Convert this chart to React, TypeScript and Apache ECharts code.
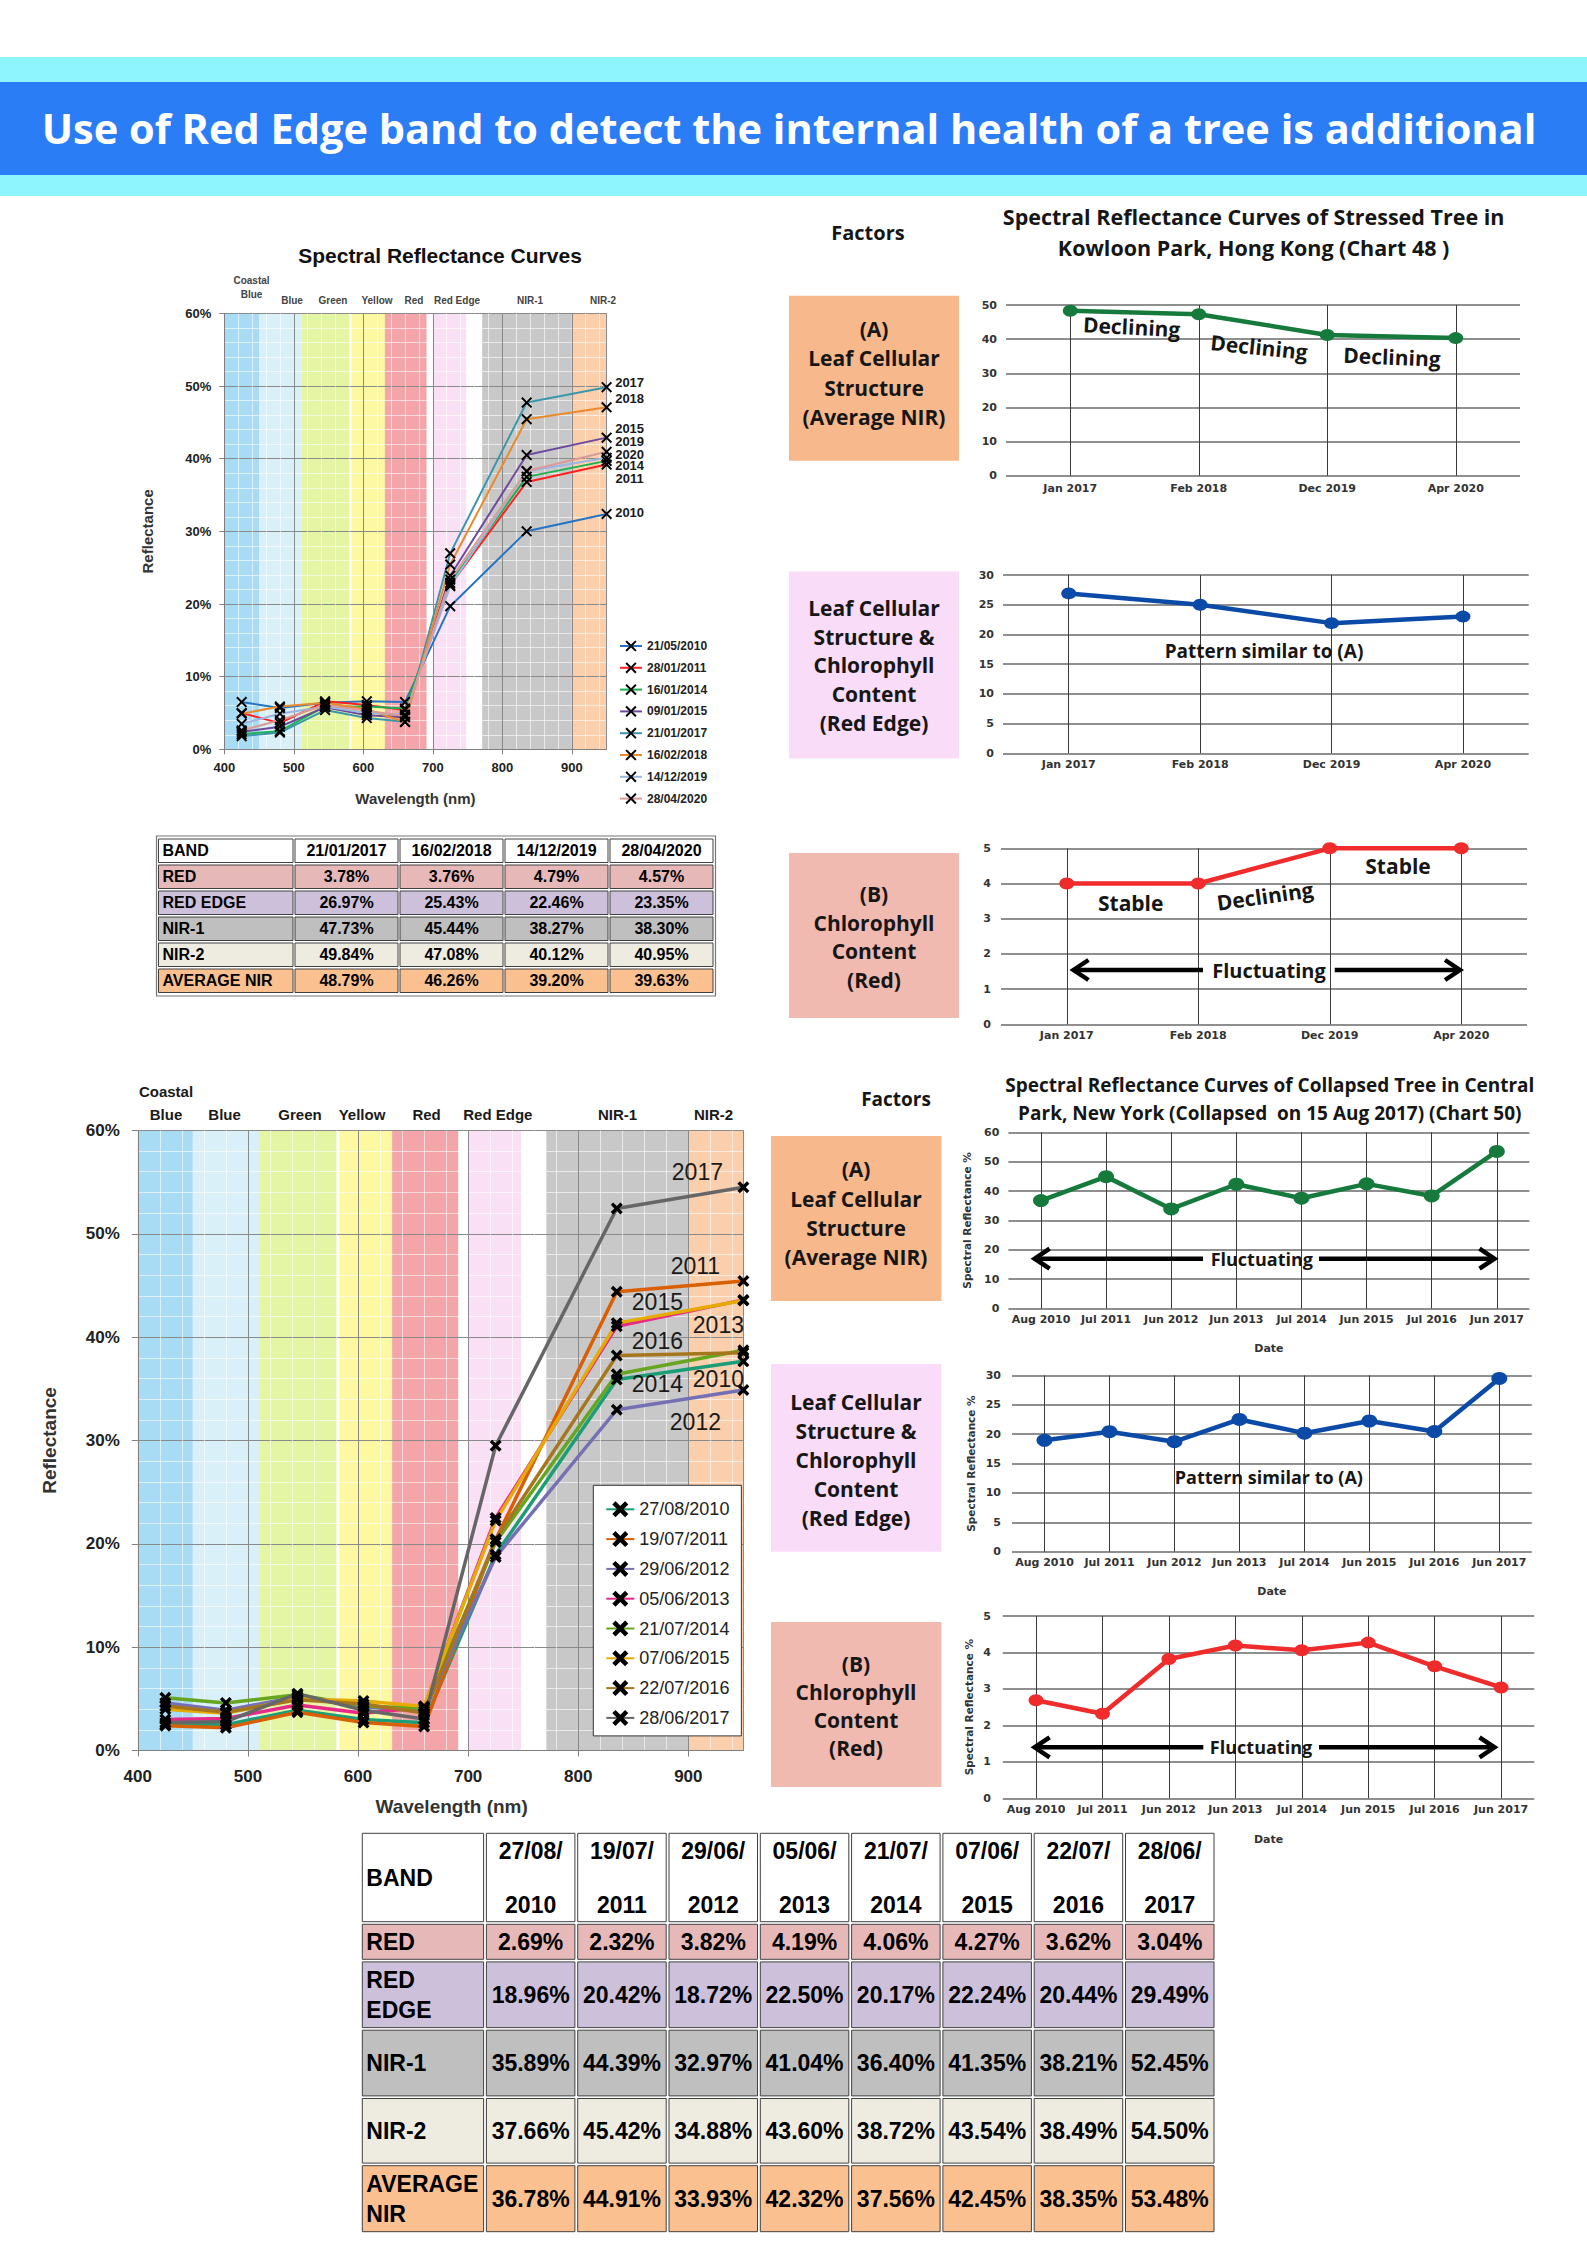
import React, { useEffect, useRef } from "react";
import * as echarts from "echarts";

// ================= DATA =================
const headerTitle = "Use of Red Edge band to detect the internal health of a tree is additional";

// Spectral band sampling wavelengths (nm): Coastal, Blue, Green, Yellow, Red, Red Edge, NIR-1, NIR-2
const wavelengths = [425, 480, 545, 605, 660, 725, 835, 950];
const bandNames = ["Coastal\nBlue", "Blue", "Green", "Yellow", "Red", "Red Edge", "NIR-1", "NIR-2"];
const bandStart = [400, 450, 511, 583, 631, 700, 771, 900];
const bandEnd = [450, 511, 581, 631, 691, 748, 900, 950];

// Hong Kong stressed tree (top-left chart)
const hkLegendDates = ["21/05/2010", "28/01/2011", "16/01/2014", "09/01/2015", "21/01/2017", "16/02/2018", "14/12/2019", "28/04/2020"];
const hkYears = ["2010", "2011", "2014", "2015", "2017", "2018", "2019", "2020"];
const hk2010 = [6.5, 5.7, 6.4, 6.6, 6.5, 19.7, 30.0, 32.4];
const hk2011 = [5.0, 3.6, 6.6, 6.1, 5.4, 22.6, 36.8, 39.2];
const hk2014 = [2.1, 2.5, 5.9, 5.9, 5.6, 22.9, 37.5, 39.7];
const hk2015 = [2.4, 3.1, 5.8, 4.7, 4.4, 23.9, 40.5, 42.9];
const hk2017 = [1.8, 2.3, 5.4, 4.3, 3.78, 26.97, 47.73, 49.84];
const hk2018 = [4.9, 5.9, 6.4, 5.5, 3.76, 25.43, 45.44, 47.08];
const hk2019 = [3.5, 4.9, 5.9, 5.0, 4.79, 22.46, 38.27, 40.12];
const hk2020 = [2.6, 4.0, 6.1, 5.3, 4.57, 23.35, 38.3, 40.95];
const hkCurves = [hk2010, hk2011, hk2014, hk2015, hk2017, hk2018, hk2019, hk2020];

// New York collapsed tree (bottom-left chart)
const nyLegendDates = ["27/08/2010", "19/07/2011", "29/06/2012", "05/06/2013", "21/07/2014", "07/06/2015", "22/07/2016", "28/06/2017"];
const nyYears = ["2010", "2011", "2012", "2013", "2014", "2015", "2016", "2017"];
const ny2010 = [2.5, 2.5, 3.9, 3.0, 2.69, 18.96, 35.89, 37.66];
const ny2011 = [2.4, 2.2, 3.7, 2.7, 2.32, 20.42, 44.39, 45.42];
const ny2012 = [4.6, 3.9, 5.2, 4.2, 3.82, 18.72, 32.97, 34.88];
const ny2013 = [3.0, 3.1, 4.4, 3.6, 4.19, 22.5, 41.04, 43.6];
const ny2014 = [5.1, 4.6, 5.4, 4.3, 4.06, 20.17, 36.4, 38.72];
const ny2015 = [4.0, 3.6, 5.0, 4.8, 4.27, 22.24, 41.35, 43.54];
const ny2016 = [4.3, 3.7, 4.9, 4.5, 3.62, 20.44, 38.21, 38.49];
const ny2017 = [2.7, 2.8, 5.5, 3.9, 3.04, 29.49, 52.45, 54.5];
const nyCurves = [ny2010, ny2011, ny2012, ny2013, ny2014, ny2015, ny2016, ny2017];

// Kowloon Park trend charts
const hkDates = ["Jan 2017", "Feb 2018", "Dec 2019", "Apr 2020"];
const hkAvgNir = [48.3, 47.3, 41.2, 40.3];
const hkRedEdge = [26.9, 25.0, 21.9, 23.0];
const hkRed = [4, 4, 5, 5];

// Central Park trend charts
const nyDates = ["Aug 2010", "Jul 2011", "Jun 2012", "Jun 2013", "Jul 2014", "Jun 2015", "Jul 2016", "Jun 2017"];
const nyAvgNir = [36.78, 44.91, 33.93, 42.32, 37.56, 42.45, 38.35, 53.48];
const nyRedEdge = [18.96, 20.42, 18.72, 22.5, 20.17, 22.24, 20.44, 29.49];
const nyRed = [2.69, 2.32, 3.82, 4.19, 4.06, 4.27, 3.62, 3.04];

// Tables
const tableBandsTop = ["RED", "RED EDGE", "NIR-1", "NIR-2", "AVERAGE NIR"];
const tableBandsBottom = ["RED", "RED\nEDGE", "NIR-1", "NIR-2", "AVERAGE\nNIR"];
const hkTableDates = ["21/01/2017", "16/02/2018", "14/12/2019", "28/04/2020"];
const hkTableRed = [3.78, 3.76, 4.79, 4.57];
const hkTableRedEdge = [26.97, 25.43, 22.46, 23.35];
const hkTableNir1 = [47.73, 45.44, 38.27, 38.3];
const hkTableNir2 = [49.84, 47.08, 40.12, 40.95];
const hkTableAvg = [48.79, 46.26, 39.2, 39.63];
const nyTableDates = ["27/08/\n2010", "19/07/\n2011", "29/06/\n2012", "05/06/\n2013", "21/07/\n2014", "07/06/\n2015", "22/07/\n2016", "28/06/\n2017"];
const nyTableRed = [2.69, 2.32, 3.82, 4.19, 4.06, 4.27, 3.62, 3.04];
const nyTableRedEdge = [18.96, 20.42, 18.72, 22.5, 20.17, 22.24, 20.44, 29.49];
const nyTableNir1 = [35.89, 44.39, 32.97, 41.04, 36.4, 41.35, 38.21, 52.45];
const nyTableNir2 = [37.66, 45.42, 34.88, 43.6, 38.72, 43.54, 38.49, 54.5];
const nyTableAvg = [36.78, 44.91, 33.93, 42.32, 37.56, 42.45, 38.35, 53.48];

// ================= STYLE / LAYOUT =================
const W = 1587;
const H = 2245;
const F_XL = '"Liberation Sans", Arial, sans-serif';
const F_CANVA = '"Open Sans", "Noto Sans", sans-serif';
const F_AXIS = '"DejaVu Sans", "Noto Sans", sans-serif';

const bandColors = ["#a7dcf4", "#d9f0f9", "#e4f5a3", "#fdf8a2", "#f4a5a9", "#fae0f4", "#c8c8c8", "#fbceac"];
const hkColors = ["#2574c4", "#ff2020", "#1db04e", "#6e4a9e", "#3a97ab", "#e98a2c", "#9cb6e2", "#d99a98"];
const nyColors = ["#1b9e77", "#d95f02", "#7570b3", "#e7298a", "#66a61e", "#e6ab02", "#a6761d", "#666666"];
const rowFills = ["#e6b9b8", "#ccc0da", "#bfbfbf", "#eeece1", "#fac090"];

const xThin = "path://M1.5,0 L6,4.5 L10.5,0 L12,1.5 L7.5,6 L12,10.5 L10.5,12 L6,7.5 L1.5,12 L0,10.5 L4.5,6 L0,1.5 Z";
const xThick = "path://M2.4,0 L6,3.6 L9.6,0 L12,2.4 L8.4,6 L12,9.6 L9.6,12 L6,8.4 L2.4,12 L0,9.6 L3.6,6 L0,2.4 Z";

const hkLabelOffsets = [[23, -1], [23, 13.5], [23, 5], [23, -9.5], [23, -5], [23, -9], [23, -16], [23, 2.5]];
const nyLabelOffsets = [[-25, 17.7], [-48, -15.3], [-48, 31.6], [-25, 25], [-86, 33.5], [-86, 1.5], [-86, -11.7], [-46, -15.7]];

function fmtPct(v: number) {
  return v.toFixed(2) + "%";
}

function buildOption() {
  const G: any[] = [];
  const T = (text: string, x: number, y: number, o: any = {}) =>
    G.push({
      type: "text",
      x,
      y,
      rotation: o.rot || 0,
      z: o.z ?? 20,
      silent: true,
      style: {
        text,
        fontSize: o.size || 14,
        fontWeight: o.weight || "bold",
        fontFamily: o.family || F_XL,
        fill: o.fill || "#111",
        align: o.align || "center",
        verticalAlign: "middle",
        lineHeight: o.lh,
      },
    });
  const R = (x: number, y: number, w: number, h: number, fill: string, o: any = {}) =>
    G.push({
      type: "rect",
      shape: { x, y, width: w, height: h },
      z: o.z ?? 5,
      silent: true,
      style: { fill, stroke: o.stroke || null, lineWidth: o.lw || 0 },
    });
  const arrow = (y: number, xL: number, xLm: number, xRm: number, xR: number) => {
    const st = { stroke: "#000", lineWidth: 4.5, fill: null };
    G.push({ type: "line", z: 20, silent: true, shape: { x1: xLm, y1: y, x2: xL + 2, y2: y }, style: st });
    G.push({ type: "line", z: 20, silent: true, shape: { x1: xRm, y1: y, x2: xR - 2, y2: y }, style: st });
    G.push({ type: "polyline", z: 20, silent: true, shape: { points: [[xL + 15, y - 10], [xL, y], [xL + 15, y + 10]] }, style: { ...st, lineJoin: "miter" } });
    G.push({ type: "polyline", z: 20, silent: true, shape: { points: [[xR - 15, y - 10], [xR, y], [xR - 15, y + 10]] }, style: { ...st, lineJoin: "miter" } });
  };
  const table = (x0: number, y0: number, colW: number[], colGap: number, rowH: number[], rowGap: number, header: string[], bands: string[], rows: number[][], font: number, lh: number, hlh: number) => {
    let y = y0;
    for (let r = 0; r < rowH.length; r++) {
      let x = x0;
      for (let c = 0; c < colW.length; c++) {
        const fill = r === 0 ? "#ffffff" : rowFills[r - 1];
        R(x, y, colW[c], rowH[r], fill, { stroke: "#404040", lw: 1, z: 6 });
        let text = "";
        if (r === 0) text = c === 0 ? "BAND" : header[c - 1];
        else text = c === 0 ? bands[r - 1] : fmtPct(rows[r - 1][c - 1]);
        if (c === 0) T(text, x + 4, y + rowH[r] / 2, { size: font, align: "left", fill: "#000", lh, z: 21 });
        else T(text, x + colW[c] / 2, y + rowH[r] / 2, { size: font, fill: "#000", lh: r === 0 ? hlh : lh, z: 21 });
        x += colW[c] + colGap;
      }
      y += rowH[r] + rowGap;
    }
  };

  // ---- header ----
  R(0, 57, W, 139, "#8ef4fe", { z: 1 });
  R(0, 82, W, 93, "#2b7df5", { z: 2 });
  T(headerTitle, 789, 128, { size: 41.5, family: F_CANVA, fill: "#ffffff", weight: "bold" });

  // ---- top-left chart texts ----
  T("Spectral Reflectance Curves", 440, 255, { size: 21, fill: "#111" });
  const topBandLabelX = [251.5, 292, 333, 377, 414, 457, 530, 603];
  bandNames.forEach((b, i) => T(b, topBandLabelX[i], i === 0 ? 287 : 300, { size: 10, fill: "#444", lh: 14 }));

  // ---- bottom-left chart texts ----
  const botBandLabelX = [166, 224.6, 300, 362, 426.6, 497.8, 617.6, 713.5];
  bandNames.forEach((b, i) => T(b, botBandLabelX[i], i === 0 ? 1102.5 : 1114, { size: 15, fill: "#1a1a1a", lh: 23 }));

  // ---- tables ----
  table(158.5, 839, [134.5, 103, 103, 103, 103], 2, [23.5, 23.5, 23.5, 23.5, 23.5, 23.5], 2.5, hkTableDates, tableBandsTop,
    [hkTableRed, hkTableRedEdge, hkTableNir1, hkTableNir2, hkTableAvg], 16, 18, 18);
  R(156.5, 836, 559, 160, "none", { stroke: "#777", lw: 1.2, z: 7 });
  table(362.3, 1833.3, [121.3, 88.5, 88.5, 88.5, 88.5, 88.5, 88.5, 88.5, 88.5], 2.8, [88.4, 35, 65.7, 65.7, 64.6, 66], 2.6, nyTableDates, tableBandsBottom,
    [nyTableRed, nyTableRedEdge, nyTableNir1, nyTableNir2, nyTableAvg], 23, 30, 54);

  // ---- right panels (Kowloon) ----
  const cw = { family: F_CANVA, weight: "bold", fill: "#161616" };
  T("Factors", 868, 232, { ...cw, size: 20 });
  T("Spectral Reflectance Curves of Stressed Tree in", 1253.6, 216.8, { ...cw, size: 21.5 });
  T("Kowloon Park, Hong Kong (Chart 48 )", 1253.6, 247, { ...cw, size: 21.5 });
  R(789, 295.7, 170, 165, "#f7b98b");
  T("(A)\nLeaf Cellular\nStructure\n(Average NIR)", 874, 373.1, { ...cw, size: 21, lh: 29.3 });
  R(789, 571.4, 170, 187, "#f8dcf8");
  T("Leaf Cellular\nStructure &\nChlorophyll\nContent\n(Red Edge)", 874, 665.4, { ...cw, size: 21, lh: 28.75 });
  R(789, 853, 170, 165, "#f1bab1");
  T("(B)\nChlorophyll\nContent\n(Red)", 874, 937.1, { ...cw, size: 21, lh: 28.7 });
  T("Declining", 1131.7, 326.8, { ...cw, size: 21, rot: -0.05 });
  T("Declining", 1259, 347, { ...cw, size: 21, rot: -0.1 });
  T("Declining", 1392, 356.8, { ...cw, size: 21, rot: -0.04 });
  T("Pattern similar to (A)", 1264, 650.7, { ...cw, size: 19 });
  T("Stable", 1130.7, 902.7, { ...cw, size: 21 });
  T("Declining", 1265, 896, { ...cw, size: 21, rot: 0.14 });
  T("Stable", 1398, 866, { ...cw, size: 21 });
  T("Fluctuating", 1269, 970, { ...cw, size: 20 });
  arrow(970, 1073.5, 1203, 1334.7, 1460);

  // ---- right panels (Central Park) ----
  T("Factors", 896, 1098.6, { ...cw, size: 19 });
  T("Spectral Reflectance Curves of Collapsed Tree in Central", 1269.8, 1084.8, { ...cw, size: 19 });
  T("Park, New York (Collapsed  on 15 Aug 2017) (Chart 50)", 1269.8, 1113.4, { ...cw, size: 19 });
  R(771, 1136, 170.4, 165, "#f7b98b");
  T("(A)\nLeaf Cellular\nStructure\n(Average NIR)", 856, 1213.2, { ...cw, size: 21, lh: 29.2 });
  R(771, 1364, 170.4, 187.7, "#f8dcf8");
  T("Leaf Cellular\nStructure &\nChlorophyll\nContent\n(Red Edge)", 856, 1459.8, { ...cw, size: 21, lh: 29.1 });
  R(771, 1622, 170.4, 165, "#f1bab1");
  T("(B)\nChlorophyll\nContent\n(Red)", 856, 1706, { ...cw, size: 21, lh: 28.1 });
  T("Fluctuating", 1261.8, 1258.7, { ...cw, size: 18 });
  arrow(1258.7, 1034.6, 1203, 1319, 1494.5);
  T("Pattern similar to (A)", 1268.8, 1477, { ...cw, size: 18 });
  T("Fluctuating", 1261, 1747.3, { ...cw, size: 18 });
  arrow(1747.3, 1034.6, 1203.3, 1319, 1494.5);

  // ================= grids =================
  const grids = [
    { left: 224.3, top: 313.4, width: 382.3, height: 435.9 },
    { left: 1006, top: 305, width: 514, height: 170.7 },
    { left: 1003, top: 575, width: 525.7, height: 178.3 },
    { left: 1001, top: 848.3, width: 526, height: 176 },
    { left: 137.8, top: 1130.4, width: 605.6, height: 620.1 },
    { left: 1008.4, top: 1132.3, width: 521, height: 176.3 },
    { left: 1012, top: 1375.4, width: 519.8, height: 176.3 },
    { left: 1002.8, top: 1616, width: 531.5, height: 182.3 },
  ];

  const xAxes: any[] = [];
  const yAxes: any[] = [];
  const series: any[] = [];

  // ---- spectral chart axes ----
  const spectralAxes = (gi: number, o: any) => {
    xAxes[gi] = {
      type: "value", gridIndex: gi, min: 400, max: 950, interval: 100, z: 1,
      axisLine: { show: true, lineStyle: { color: "#7f7f7f" } },
      axisTick: { show: true, length: o.tick, lineStyle: { color: "#7f7f7f" } },
      axisLabel: { showMaxLabel: false, margin: o.xm, fontSize: o.lab, fontWeight: "bold", color: "#222", fontFamily: F_XL },
      splitLine: { show: true, lineStyle: { color: "#8a8a8a", width: 1 } },
      minorTick: { show: false, splitNumber: 5 },
      minorSplitLine: { show: true, lineStyle: { color: "rgba(255,255,255,0.6)", width: 1 } },
      name: "Wavelength (nm)", nameLocation: "middle", nameGap: o.xng,
      nameTextStyle: { fontSize: o.name, fontWeight: "bold", color: "#333", fontFamily: F_XL, padding: o.xnp },
    };
    yAxes[gi] = {
      type: "value", gridIndex: gi, min: 0, max: 60, interval: 10, z: 1,
      axisLine: { show: true, lineStyle: { color: "#7f7f7f" } },
      axisTick: { show: true, length: o.tick, lineStyle: { color: "#7f7f7f" } },
      axisLabel: { formatter: "{value}%", margin: o.ym, fontSize: o.lab, fontWeight: "bold", color: "#222", fontFamily: F_XL },
      splitLine: { show: true, lineStyle: { color: "#8a8a8a", width: 1 } },
      minorTick: { show: false, splitNumber: 5 },
      minorSplitLine: { show: true, lineStyle: { color: "rgba(255,255,255,0.6)", width: 1 } },
      name: "Reflectance", nameLocation: "middle", nameGap: o.yng,
      nameTextStyle: { fontSize: o.name, fontWeight: "bold", color: "#333", fontFamily: F_XL },
    };
    series.push({
      type: "custom", xAxisIndex: gi, yAxisIndex: gi, z: 0, silent: true,
      data: bandStart.map((s, i) => [s, bandEnd[i], i]),
      encode: { x: [0, 1], y: 2 },
      renderItem: (_p: any, api: any) => {
        const a = api.coord([api.value(0), 60]);
        const b = api.coord([api.value(1), 0]);
        return { type: "rect", shape: { x: a[0], y: a[1], width: b[0] - a[0], height: b[1] - a[1] }, style: { fill: bandColors[api.value(2)] } };
      },
    });
  };
  spectralAxes(0, { tick: 5, xm: 12, ym: 13, lab: 13, name: 15, xng: 42, yng: 69, xnp: 0 });
  spectralAxes(4, { tick: 6, xm: 17, ym: 18, lab: 17, name: 19, xng: 46, yng: 79, xnp: [0, 0, 0, 22] });

  const spectralSeries = (gi: number, names: string[], years: string[], curves: number[][], colors: string[], lw: number, sym: string, ss: number, offsets: number[][], lf: any) => {
    names.forEach((name, k) => {
      series.push({
        type: "line", name, xAxisIndex: gi, yAxisIndex: gi, z: 3,
        symbol: sym, symbolSize: ss, showAllSymbol: true,
        lineStyle: { color: colors[k], width: lw },
        itemStyle: { color: "#000" },
        emphasis: { disabled: true },
        data: wavelengths.map((w, i) =>
          i === wavelengths.length - 1
            ? { value: [w, curves[k][i]], label: { show: true, formatter: years[k], position: "inside", offset: offsets[k], color: "#1a1a1a", textBorderWidth: 0, ...lf } }
            : [w, curves[k][i]]
        ),
      });
    });
  };
  spectralSeries(0, hkLegendDates, hkYears, hkCurves, hkColors, 2, xThin, 11, hkLabelOffsets, { fontSize: 13, fontWeight: "bold", fontFamily: F_XL });
  spectralSeries(4, nyLegendDates, nyYears, nyCurves, nyColors, 3.5, xThick, 12, nyLabelOffsets, { fontSize: 23, fontWeight: "normal", fontFamily: F_XL });

  // ---- trend charts ----
  const axText = { fontFamily: F_AXIS, fontSize: 11, fontWeight: "bold", color: "#333" };
  const trend = (gi: number, cats: string[], vals: number[], max: number, interval: number, color: string, ss: number[], o: any) => {
    xAxes[gi] = {
      type: "category", gridIndex: gi, data: cats, boundaryGap: true,
      axisLine: { show: false }, axisTick: { show: false }, splitLine: { show: false },
      axisLabel: { interval: 0, margin: o.xm, ...axText },
      name: o.date ? "Date" : "", nameLocation: "middle", nameGap: o.xng,
      nameTextStyle: { ...axText },
    };
    yAxes[gi] = {
      type: "value", gridIndex: gi, min: 0, max, interval,
      axisLine: { show: false }, axisTick: { show: false },
      splitLine: { show: true, lineStyle: { color: "#8f8f8f", width: 1.8 } },
      axisLabel: { margin: o.ym, ...axText },
      name: o.date ? "Spectral Reflectance %" : "", nameLocation: "middle", nameGap: o.yng,
      nameTextStyle: { ...axText, fontSize: 10.5 },
    };
    series.push({
      type: "line", name: "trend" + gi, xAxisIndex: gi, yAxisIndex: gi, z: 3,
      data: vals, symbol: "circle", symbolSize: ss,
      lineStyle: { color, width: 4.5 }, itemStyle: { color },
      emphasis: { disabled: true },
      markLine: {
        silent: true, symbol: ["none", "none"], z: 1, animation: false,
        label: { show: false }, lineStyle: { color: "#3a3a3a", width: 1, type: "solid" },
        emphasis: { disabled: true },
        data: cats.map((c) => ({ xAxis: c })),
      },
    });
  };
  trend(1, hkDates, hkAvgNir, 50, 10, "#157a3c", [15, 12], { xm: 7, ym: 9 });
  trend(2, hkDates, hkRedEdge, 30, 5, "#0b4aa6", [15, 12], { xm: 6, ym: 9 });
  trend(3, hkDates, hkRed, 5, 1, "#ef2b2b", [15, 12], { xm: 6, ym: 10 });
  trend(5, nyDates, nyAvgNir, 60, 10, "#157a3c", [16, 13], { xm: 5, ym: 9, date: true, xng: 34, yng: 36 });
  trend(6, nyDates, nyRedEdge, 30, 5, "#0b4aa6", [16, 13], { xm: 5, ym: 11, date: true, xng: 34, yng: 36 });
  trend(7, nyDates, nyRed, 5, 1, "#ef2b2b", [15, 12], { xm: 6, ym: 12, date: true, xng: 36, yng: 28 });

  return {
    animation: false,
    backgroundColor: "#ffffff",
    textStyle: { fontFamily: F_XL },
    grid: grids,
    xAxis: xAxes,
    yAxis: yAxes,
    legend: [
      {
        data: hkLegendDates, orient: "vertical", left: 619, top: 640,
        itemWidth: 22, itemHeight: 14, itemGap: 9.8, padding: 0, selectedMode: false,
        textStyle: { fontSize: 12, fontWeight: "bold", color: "#222", fontFamily: F_XL },
      },
      {
        data: nyLegendDates, orient: "vertical", left: 593.3, top: 1485.3,
        itemWidth: 28, itemHeight: 20, itemGap: 11.8, padding: [15, 12, 9, 12], selectedMode: false,
        backgroundColor: "#ffffff", borderColor: "#333", borderWidth: 1,
        textStyle: { fontSize: 18, fontWeight: "normal", color: "#222", fontFamily: F_XL },
      },
    ],
    series,
    graphic: { elements: G },
  };
}

export default function App() {
  const ref = useRef<HTMLDivElement>(null);
  useEffect(() => {
    document.body.style.margin = "0";
    const chart = echarts.init(ref.current as HTMLDivElement, null, { renderer: "svg" });
    chart.setOption(buildOption() as any);
    return () => chart.dispose();
  }, []);
  return <div ref={ref} style={{ width: W, height: H }} />;
}
